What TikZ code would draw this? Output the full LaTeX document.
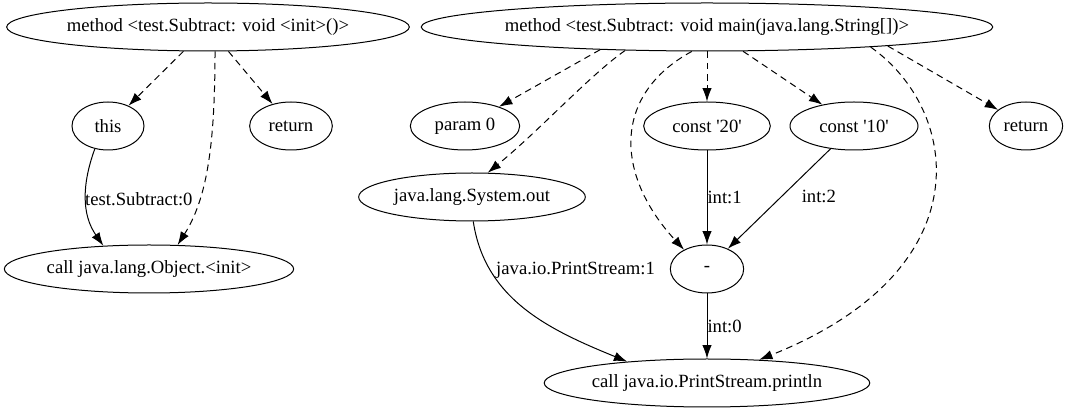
\documentclass[tikz,border=0pt]{standalone}
\usepackage{fontspec}
\setmainfont{Liberation Serif}
\usetikzlibrary{shapes.geometric}
\usetikzlibrary{arrows.meta}
\tikzset{
	vert/.style={ellipse, draw, line width=0.75pt, inner sep=0pt, minimum height=36pt, font=\fontsize{14}{16}\selectfont},
	flow/.style={line width=0.75pt, -{Latex[length=10pt,width=7pt]}},
	dep/.style={flow, dash pattern=on 5pt off 3.5pt},
	lbl/.style={font=\fontsize{14}{16}\selectfont, inner sep=1pt}
}

\begin{document}
\begin{tikzpicture}[x=0.75pt, y=-0.75pt]
			\useasboundingbox (0,0) rectangle (1079,416);
			% method <init>
			\node[vert, minimum width=302pt] (initm) at (208,27) {method <test.Subtract: void <init>()>};
			\node[vert, minimum width=54pt] (this) at (108,126) {this};
			\node[vert, minimum width=62pt] (ret1) at (291,126) {return};
			\node[vert, minimum width=216pt] (callobj) at (149,269) {call java.lang.Object.<init>};
			\draw[dep] (initm) -- (this);
			\draw[dep] (initm) -- (ret1);
			\draw[dep] (initm.-74) .. controls (215,150) and (206,200) .. (callobj.40);
			\draw[flow] (this.-120) to[out=-110, in=125] node[lbl, right, pos=0.5, xshift=-2pt] {test.Subtract:0} (callobj.153);
			% method main
			\node[vert, minimum width=412pt] (mainm) at (707,27) {method <test.Subtract: void main(java.lang.String[])>};
			\node[vert, minimum width=82pt] (param) at (465,126) {param 0};
			\node[vert, minimum width=95pt] (c20) at (707,126) {const \textquotesingle 20\textquotesingle};
			\node[vert, minimum width=96pt] (c10) at (854,126) {const \textquotesingle 10\textquotesingle};
			\node[vert, minimum width=55pt] (ret2) at (1026,126) {return};
			\node[vert, minimum width=170pt] (sysout) at (472,197) {java.lang.System.out};
			\node[vert, minimum width=55pt] (minus) at (707,269) {-};
			\node[vert, minimum width=240pt] (println) at (707,383) {call java.io.PrintStream.println};
			\draw[dep] (mainm.-168) -- (param);
			\draw[dep] (mainm.-164) .. controls (590,75) and (540,130) .. (sysout.57);
			\draw[dep] (mainm.-122) .. controls (612,95) and (615,175) .. (minus.140);
			\draw[dep] (mainm) -- (c20);
			\draw[dep] (mainm) -- (c10);
			\draw[dep] (mainm.-6) -- (ret2);
			\draw[dep] (mainm.-7.8) .. controls (960,110) and (985,270) .. (println.24);
			\draw[flow] (c20) -- node[lbl, right, inner sep=0pt] {int:1} (minus);
			\draw[flow] (c10) -- node[lbl, right, pos=0.48, xshift=14pt] {int:2} (minus);
			\draw[flow] (sysout.-87) .. controls (485,300) and (550,330) .. node[lbl, right, pos=0.24, xshift=3pt] {java.io.PrintStream:1} (println.165);
			\draw[flow] (minus) -- node[lbl, right, inner sep=0pt] {int:0} (println);
		\end{tikzpicture}
\end{document}
